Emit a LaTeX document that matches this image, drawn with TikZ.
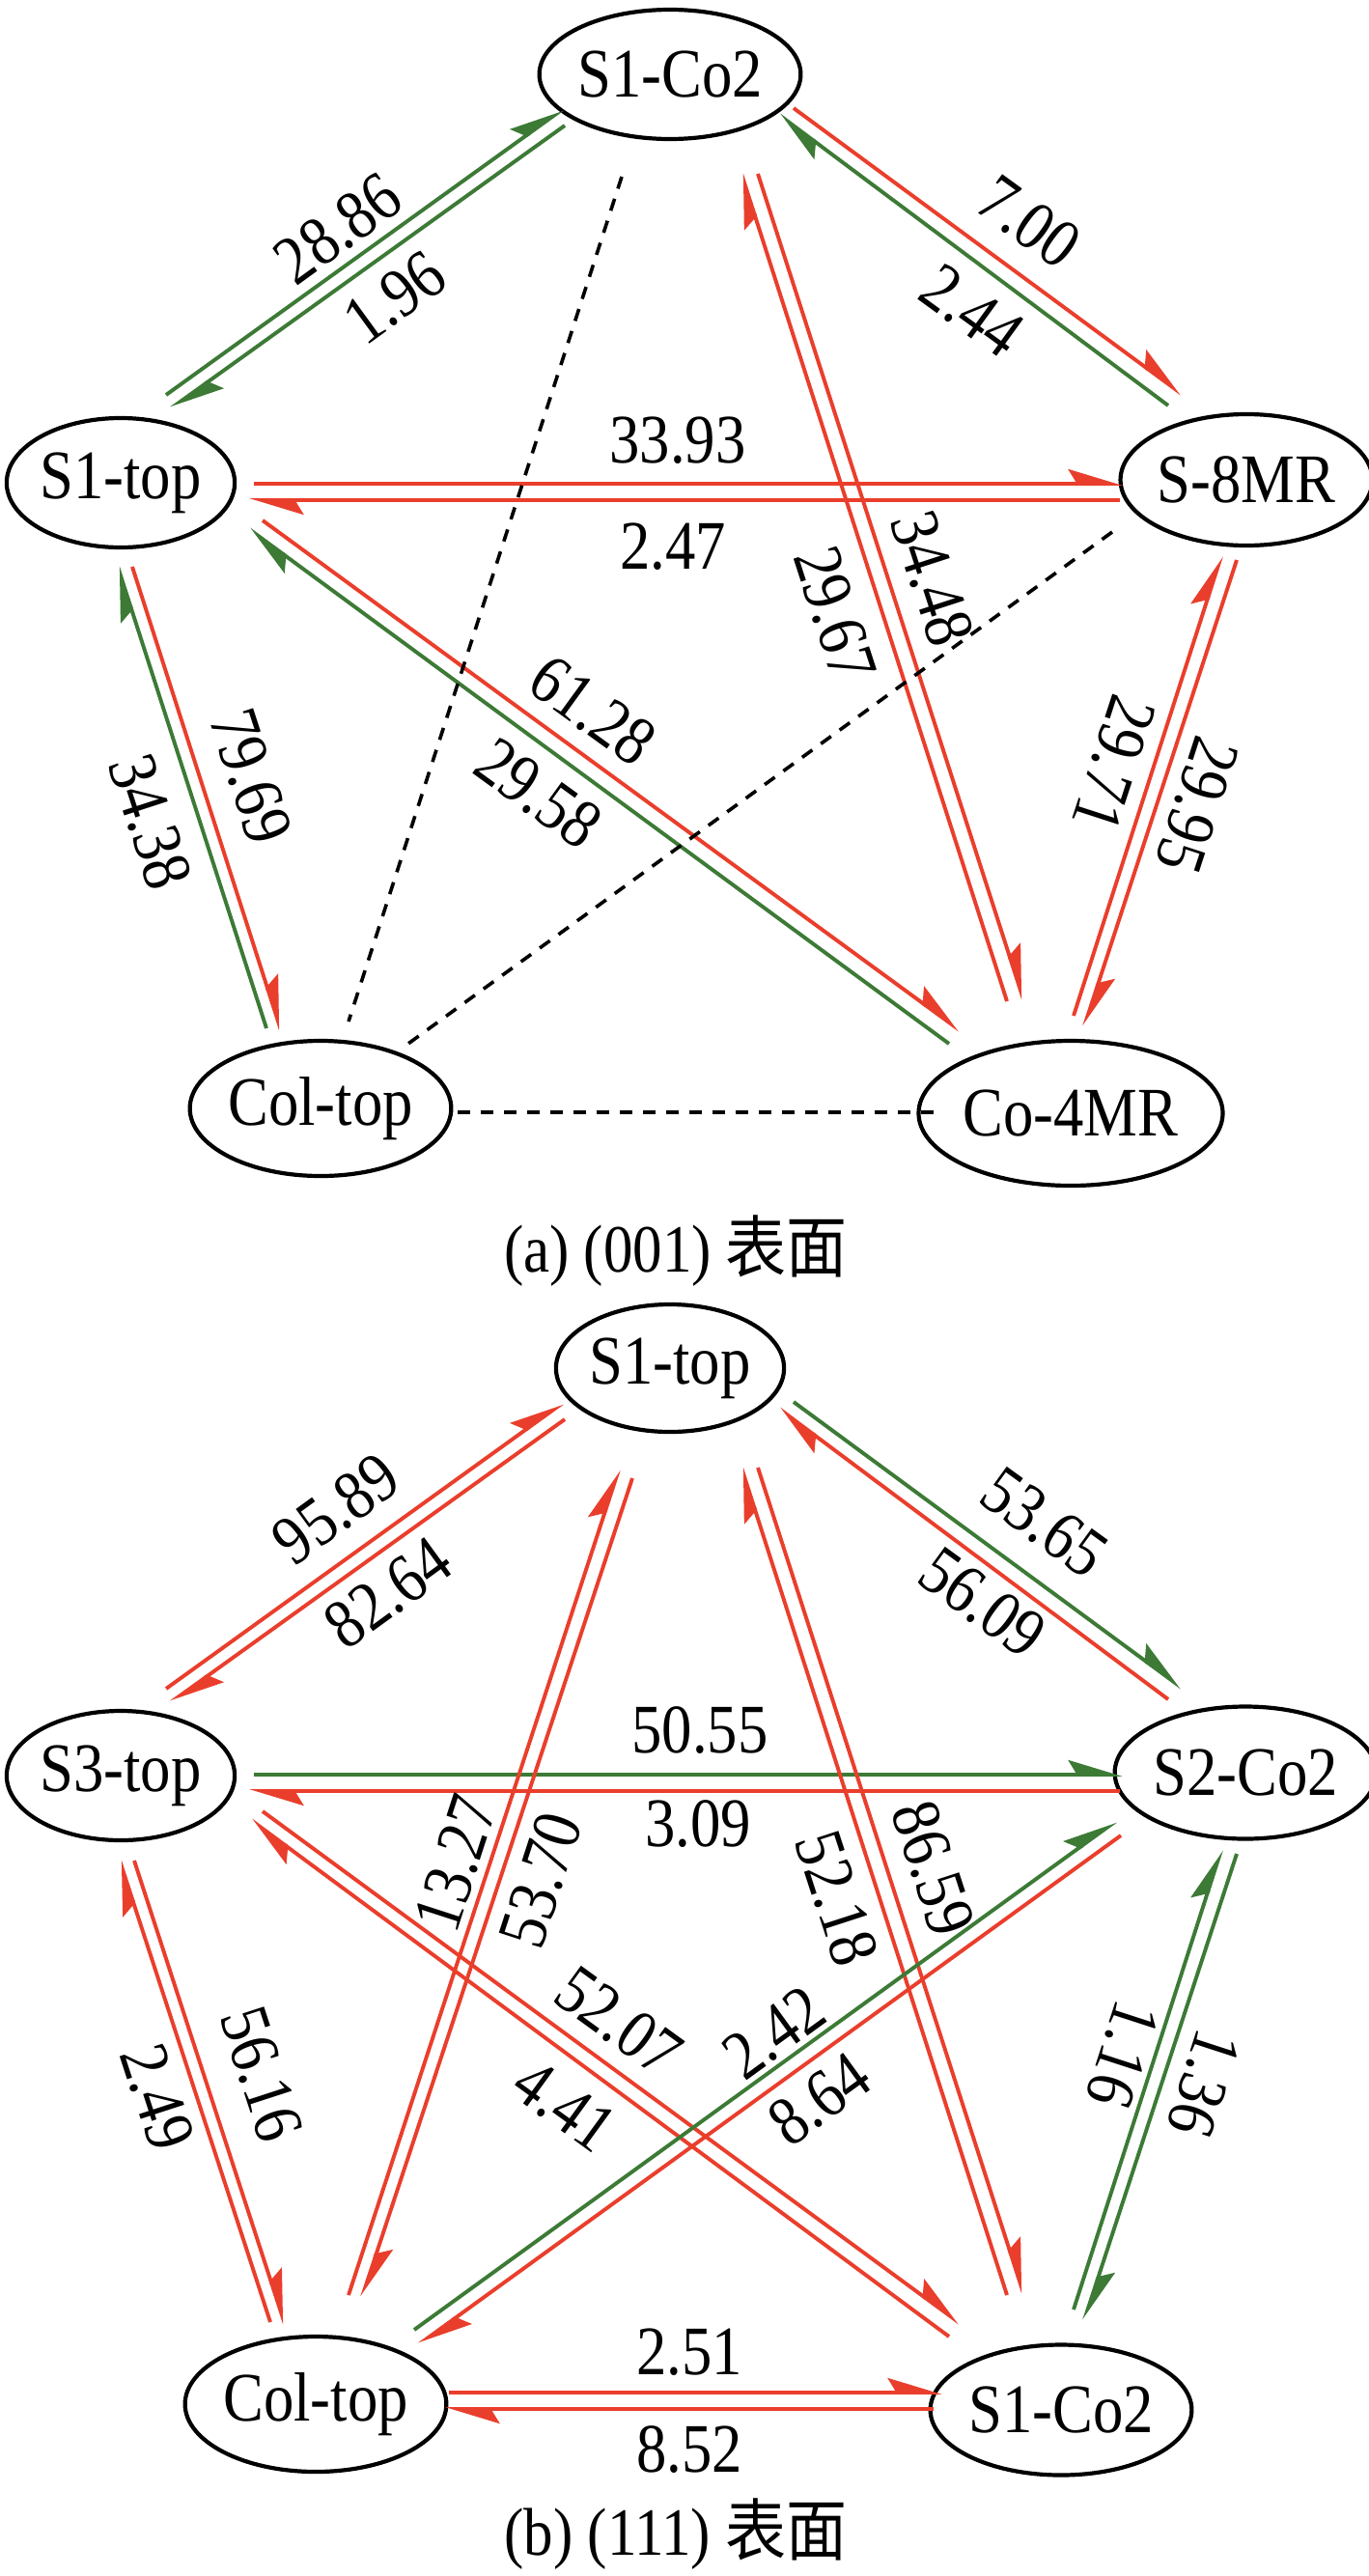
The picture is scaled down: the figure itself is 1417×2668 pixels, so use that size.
\documentclass[tikz,border=0pt]{standalone}
\usepackage{fontspec}
\setmainfont{Liberation Serif}[FakeStretch=0.87]
\newfontfamily\cjk{Noto Sans CJK SC}[FakeStretch=0.9]
\usetikzlibrary{arrows.meta,calc,shapes.geometric}
\definecolor{myred}{RGB}{234,62,44}
\definecolor{mygreen}{RGB}{60,122,54}
\tikzset{
  site/.style={draw=black, line width=4.2pt, ellipse, inner sep=0pt, font=\fontsize{72}{74}\selectfont},
  tipstyle/.style={-{Stealth[harpoon,length=50pt,width=30pt,inset=9pt]}},
  rarr/.style={color=myred, line width=3.9pt, tipstyle},
  garr/.style={color=mygreen, line width=3.9pt, tipstyle},
  lab/.style={font=\fontsize{72}{74}\selectfont, inner sep=0pt},
  captext/.style={font=\fontsize{70}{74}\selectfont, inner sep=0pt},
  dline/.style={black, line width=3.6pt, dash pattern=on 13pt off 11pt},
}
\newcommand\conn[5]{\draw[#1] ($(#2)+(#3)$) -- ($(#4)+(#5)$);}
\begin{document}
\begin{tikzpicture}[x=1pt,y=-1pt]
\useasboundingbox (0,0) rectangle (1417,2668);
% ---------- (a) ----------
\node[site, minimum width=229pt, minimum height=134pt] (a1) at (694,77) {S1-Co2};
\node[site, minimum width=229pt, minimum height=134pt] (a2) at (125,500) {S1-top};
\node[site, minimum width=231pt, minimum height=136pt] (a3) at (1291,497) {S-8MR};
\node[site, minimum width=236pt, minimum height=140pt] (a4) at (332,1148) {Col-top};
\node[site, minimum width=254pt, minimum height=150pt] (a5) at (1109,1153) {Co-4MR};

\conn{garr}{a2}{47,-91}{a1}{-111,36}
\conn{garr}{a1}{-109,53}{a2}{52,-77}
\conn{rarr}{a1}{128,35}{a3}{-67,-89}
\conn{garr}{a3}{-81,-77}{a1}{113,42}
\conn{rarr}{a2}{138,1}{a3}{-128,4}
\conn{rarr}{a3}{-131,21}{a2}{133,18}
\conn{rarr}{a5}{-66,-116}{a1}{74,103}
\conn{rarr}{a1}{91,103}{a5}{-49,-118}
\conn{rarr}{a5}{3,-101}{a3}{-26,79}
\conn{rarr}{a3}{-10,83}{a5}{14,-90}
\conn{garr}{a4}{-56,-83}{a2}{-3,87}
\conn{rarr}{a2}{12,87}{a4}{-41,-81}
\conn{garr}{a5}{-126,-72}{a2}{133,48}
\conn{rarr}{a2}{147,39}{a5}{-115,-86}
\conn{dline}{a1}{-50,106}{a4}{29,-90}
\conn{dline}{a3}{-139,54}{a4}{88,-65}
\conn{dline}{a4}{142,4}{a5}{-138,-1}

\node[lab, rotate=36] (la1) at (350,237) {28.86};
\node[lab, rotate=36] (la2) at (409,308) {1.96};
\node[lab, rotate=-36] (la3) at (1066,230) {7.00};
\node[lab, rotate=-36] (la4) at (1007,322) {2.44};
\node[lab] (la5) at (702,456) {33.93};
\node[lab] (la6) at (697,566) {2.47};
\node[lab, rotate=-72] (la7) at (865,636) {29.67};
\node[lab, rotate=-72] (la8) at (966,599) {34.48};
\node[lab, rotate=-108] (la9) at (1154,791) {29.71};
\node[lab, rotate=-108] (la10) at (1240,834) {29.95};
\node[lab, rotate=-72] (la11) at (260,804) {79.69};
\node[lab, rotate=-72] (la12) at (156,851) {34.38};
\node[lab, rotate=-36] (la13) at (614,736) {61.28};
\node[lab, rotate=-36] (la14) at (558,822) {29.58};
\node[captext] (capa) at (700,1296) {(a) (001) {\cjk 表面}};

% ---------- (b) ----------
\node[site, minimum width=228pt, minimum height=132pt] (b1) at (694,1417) {S1-top};
\node[site, minimum width=229pt, minimum height=134pt] (b2) at (125,1839) {S3-top};
\node[site, minimum width=231pt, minimum height=137pt] (b3) at (1290,1836) {S2-Co2};
\node[site, minimum width=236pt, minimum height=140pt] (b4) at (327,2490) {Col-top};
\node[site, minimum width=228pt, minimum height=135pt] (b5) at (1099,2496) {S1-Co2};

\conn{rarr}{b2}{47,-90}{b1}{-111,36}
\conn{rarr}{b1}{-109,53}{b2}{52,-76}
\conn{garr}{b1}{128,35}{b3}{-66,-88}
\conn{rarr}{b3}{-80,-76}{b1}{113,42}
\conn{garr}{b2}{138,-1}{b3}{-127,2}
\conn{rarr}{b3}{-130,19}{b2}{133,16}
\conn{rarr}{b5}{-56,-119}{b1}{74,103}
\conn{rarr}{b1}{91,103}{b5}{-39,-121}
\conn{garr}{b5}{13,-104}{b3}{-25,80}
\conn{garr}{b3}{-9,84}{b5}{24,-93}
\conn{rarr}{b4}{-47,-85}{b2}{-1,88}
\conn{rarr}{b2}{14,88}{b4}{-32,-83}
\conn{rarr}{b5}{-116,-76}{b2}{135,46}
\conn{rarr}{b2}{147,37}{b5}{-105,-90}
\conn{rarr}{b4}{34,-113}{b1}{-53,105}
\conn{rarr}{b1}{-39,114}{b4}{48,-111}
\conn{garr}{b4}{102,-77}{b3}{-134,50}
\conn{rarr}{b3}{-129,65}{b4}{107,-62}
\conn{rarr}{b4}{138,-12}{b5}{-123,-18}
\conn{rarr}{b5}{-132,-1}{b4}{134,5}

\node[lab, rotate=36] (lb1) at (348,1563) {95.89};
\node[lab, rotate=36] (lb2) at (402,1650) {82.64};
\node[lab, rotate=-36] (lb3) at (1082,1577) {53.65};
\node[lab, rotate=-36] (lb4) at (1018,1660) {56.09};
\node[lab] (lb5) at (725,1792) {50.55};
\node[lab] (lb6) at (723,1889) {3.09};
\node[lab, rotate=-72] (lb7) at (867,1966) {52.18};
\node[lab, rotate=-72] (lb8) at (967,1935) {86.59};
\node[lab, rotate=-108] (lb9) at (1163,2128) {1.16};
\node[lab, rotate=-108] (lb10) at (1247,2158) {1.36};
\node[lab, rotate=-72] (lb11) at (271,2148) {56.16};
\node[lab, rotate=-72] (lb12) at (163,2172) {2.49};
\node[lab, rotate=-36] (lb13) at (641,2094) {52.07};
\node[lab, rotate=-36] (lb14) at (585,2181) {4.41};
\node[lab, rotate=72] (lb15) at (472,1930) {13.27};
\node[lab, rotate=72] (lb16) at (560,1947) {53.70};
\node[lab, rotate=36] (lb17) at (802,2105) {2.42};
\node[lab, rotate=36] (lb18) at (849,2174) {8.64};
\node[lab] (lb19) at (714,2436) {2.51};
\node[lab] (lb20) at (714,2537) {8.52};
\node[captext] (capb) at (700,2625) {(b) (111) {\cjk 表面}};
\end{tikzpicture}
\end{document}
